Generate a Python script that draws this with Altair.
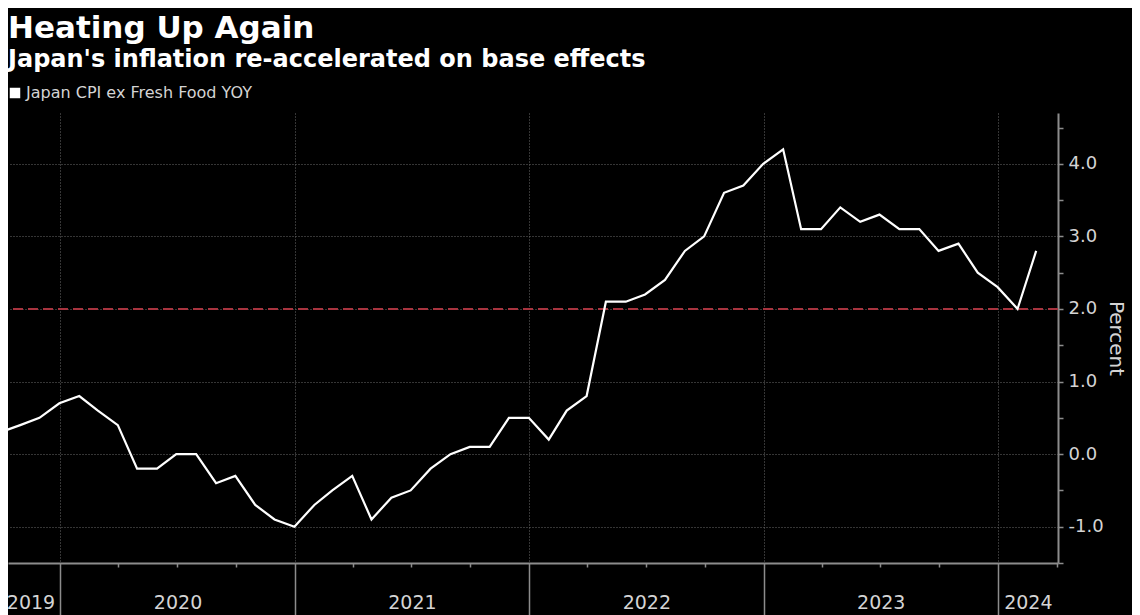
import altair as alt
import pandas as pd

# ---- data (month-end observations) ----
months = [
    "2019-09-30", "2019-10-31", "2019-11-30", "2019-12-31",
    "2020-01-31", "2020-02-29", "2020-03-31", "2020-04-30", "2020-05-31", "2020-06-30",
    "2020-07-31", "2020-08-31", "2020-09-30", "2020-10-31", "2020-11-30", "2020-12-31",
    "2021-01-31", "2021-02-28", "2021-03-31", "2021-04-30", "2021-05-31", "2021-06-30",
    "2021-07-31", "2021-08-31", "2021-09-30", "2021-10-31", "2021-11-30", "2021-12-31",
    "2022-01-31", "2022-02-28", "2022-03-31", "2022-04-30", "2022-05-31", "2022-06-30",
    "2022-07-31", "2022-08-31", "2022-09-30", "2022-10-31", "2022-11-30", "2022-12-31",
    "2023-01-31", "2023-02-28", "2023-03-31", "2023-04-30", "2023-05-31", "2023-06-30",
    "2023-07-31", "2023-08-31", "2023-09-30", "2023-10-31", "2023-11-30", "2023-12-31",
    "2024-01-31", "2024-02-29",
]
cpi_yoy = [
    0.3, 0.4, 0.5, 0.7,
    0.8, 0.6, 0.4, -0.2, -0.2, 0.0, 0.0, -0.4, -0.3, -0.7, -0.9, -1.0,
    -0.7, -0.5, -0.3, -0.9, -0.6, -0.5, -0.2, 0.0, 0.1, 0.1, 0.5, 0.5,
    0.2, 0.6, 0.8, 2.1, 2.1, 2.2, 2.4, 2.8, 3.0, 3.6, 3.7, 4.0,
    4.2, 3.1, 3.1, 3.4, 3.2, 3.3, 3.1, 3.1, 2.8, 2.9, 2.5, 2.3,
    2.0, 2.8,
]
series_name = "Japan CPI ex Fresh Food YOY"
boj_target = 2.0

title_text = "Heating Up Again"
subtitle_text = "Japan's inflation re-accelerated on base effects"
y_title = "Percent"

# axis helpers (year boundaries, quarter ticks, year label anchors)
year_starts = [(2020, 1, 1), (2021, 1, 1), (2022, 1, 1), (2023, 1, 1), (2024, 1, 1)]
quarter_starts = [(y, m, 1) for y in [2020, 2021, 2022, 2023] for m in (4, 7, 10)] + [(2024, 4, 1)]
year_label_anchor = [(2019, 11, 16), (2020, 7, 2), (2021, 7, 2), (2022, 7, 2), (2023, 7, 2), (2024, 2, 16)]
x_domain = [(2019, 10, 12), (2024, 4, 3)]
y_domain = [-1.5, 4.7]
y_major = [-1.0, 0.0, 1.0, 2.0, 3.0, 4.0]
y_minor = [-1.5, -0.5, 0.5, 1.5, 2.5, 3.5, 4.5]


def dt(t):
    return alt.DateTime(year=t[0], month=t[1], date=t[2], utc=True)


df = pd.DataFrame({"date": months, "value": cpi_yoy, "series": series_name})

FONT = "DejaVu Sans"
GRID = "#6a6a6a"
AXIS = "#8c8c8c"
TXT = "#d4d4d4"

x_scale = alt.Scale(type="utc", domain=[dt(t) for t in x_domain])
y_scale = alt.Scale(domain=y_domain, nice=False, zero=False)

axis_years = alt.Axis(
    orient="bottom", values=[dt(t) for t in year_starts], labels=False, title=None,
    tickSize=52, tickColor=AXIS, tickWidth=1.5,
    grid=True, gridColor=GRID, gridDash=[1, 2], gridWidth=1,
    domain=True, domainColor=AXIS, domainWidth=2,
)
axis_quarters = alt.Axis(
    orient="bottom", values=[dt(t) for t in quarter_starts], labels=False, title=None,
    tickSize=4, tickColor=AXIS, tickWidth=1.5, grid=False, domain=False,
)
axis_labels = alt.Axis(
    orient="bottom", values=[dt(t) for t in year_label_anchor], title=None,
    ticks=False, grid=False, domain=False,
    labelExpr="utcFormat(datum.value, '%Y')",
    labelFont=FONT, labelFontSize=19, labelColor=TXT, labelPadding=30,
)

y_axis_major = alt.Axis(
    orient="right", values=y_major, title=y_title,
    labelExpr="datum.value < 0 ? '-' + format(abs(datum.value), '.1f') : format(datum.value, '.1f')",
    labelFont=FONT, labelFontSize=18, labelColor=TXT, labelPadding=5,
    tickSize=5, tickColor=AXIS, tickWidth=1.5,
    domain=True, domainColor=AXIS, domainWidth=2,
    grid=True, gridColor=GRID, gridDash=[1, 2], gridWidth=1,
    titleFont=FONT, titleFontSize=20, titleFontWeight="normal", titleColor=TXT,
    titlePadding=2, titleAngle=90,
)
y_axis_minor = alt.Axis(
    orient="right", values=y_minor, title=None, labels=False,
    tickSize=5, tickColor=AXIS, tickWidth=1.5, domain=False, grid=False,
)

base = alt.Chart(df)

quarters_layer = base.mark_point(opacity=0).encode(
    x=alt.X("date:T", scale=x_scale, axis=axis_quarters)
)
labels_layer = base.mark_point(opacity=0).encode(
    x=alt.X("date:T", scale=x_scale, axis=axis_labels)
)
minor_y_layer = base.mark_point(opacity=0).encode(
    y=alt.Y("value:Q", scale=y_scale, axis=y_axis_minor)
)

target_rule = alt.Chart(df).mark_rule(
    color="#a8343f", strokeDash=[10, 5], strokeWidth=2
).encode(y=alt.datum(boj_target, scale=y_scale, axis=None))

line = base.mark_line(color="white", strokeWidth=2.2, clip=True).encode(
    x=alt.X("date:T", scale=x_scale, axis=axis_years),
    y=alt.Y("value:Q", scale=y_scale, axis=y_axis_major),
    color=alt.Color(
        "series:N",
        scale=alt.Scale(range=["#ffffff"]),
        legend=alt.Legend(
            title=None, orient="none", legendX=-1, legendY=-28,
            symbolType="square", symbolSize=110, symbolFillColor="#ffffff",
            symbolStrokeColor="#ffffff", symbolStrokeWidth=0, symbolOpacity=1,
            labelFont=FONT, labelFontSize=16, labelColor=TXT, labelOffset=3,
            labelLimit=600, padding=0,
        ),
    ),
)

chart = (
    alt.layer(quarters_layer, labels_layer, minor_y_layer, target_rule, line)
    .resolve_axis(x="independent", y="independent")
    .properties(
        width=1050,
        height=450,
        padding={"left": 0, "top": 105, "right": 74, "bottom": 52},
        autosize=alt.AutoSizeParams(type="none"),
        title=alt.TitleParams(
            text=title_text, subtitle=subtitle_text, anchor="start", frame="group",
            font=FONT, fontSize=31, fontWeight="bold", color="#ffffff",
            subtitleFont=FONT, subtitleFontSize=24, subtitleFontWeight="bold",
            subtitleColor="#ffffff", subtitlePadding=3, offset=12,
        ),
    )
    .configure(background="#000000")
    .configure_view(stroke=None)
)

chart.save("out.html", embed_options={"renderer": "svg", "actions": False})
